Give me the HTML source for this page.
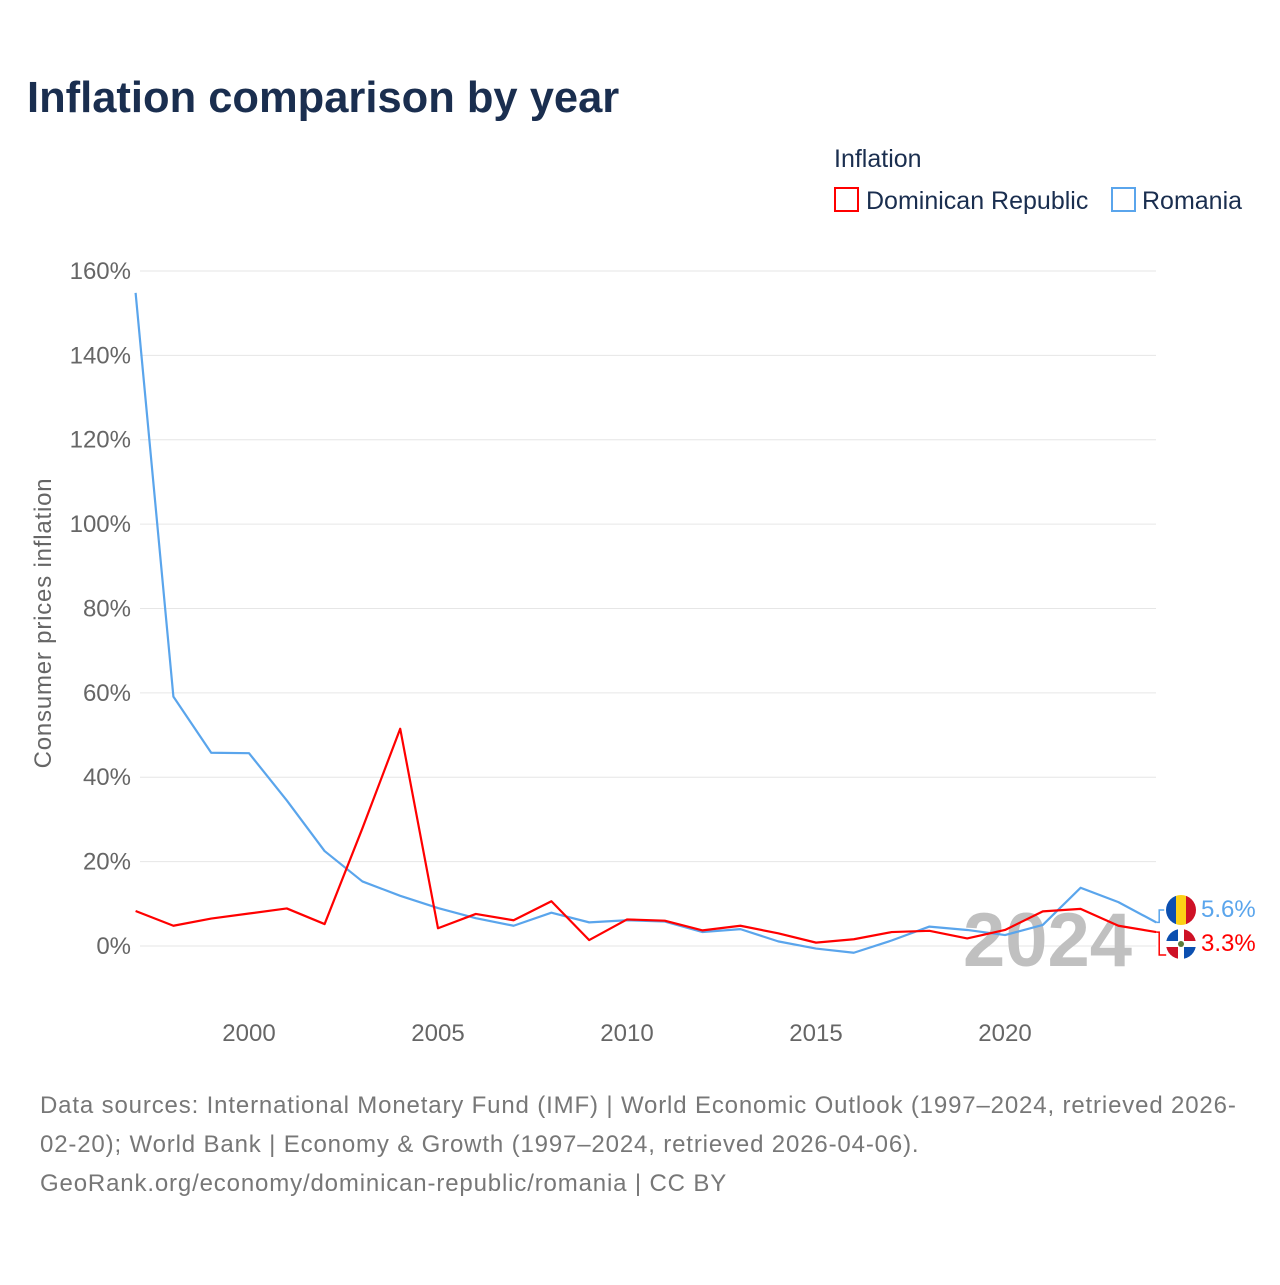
<!DOCTYPE html>
<html><head><meta charset="utf-8"><style>
body{margin:0;width:1280px;height:1280px;background:#fff;font-family:"Liberation Sans",sans-serif;overflow:hidden}
</style></head><body>
<svg width="1280" height="1280" xmlns="http://www.w3.org/2000/svg" id="chart">
<text x="27" y="112" font-size="43.5" font-weight="bold" fill="#1a2e4f">Inflation comparison by year</text>
<text x="834" y="167" font-size="25" fill="#1a2e4f">Inflation</text>
<g><rect x="835" y="188" width="23" height="23" fill="none" stroke="#f00" stroke-width="2"/><text x="866" y="209" font-size="25" fill="#1a2e4f">Dominican Republic</text></g>
<g><rect x="1112" y="188" width="23" height="23" fill="none" stroke="#5aa5ec" stroke-width="2"/><text x="1142" y="209" font-size="25" fill="#1a2e4f">Romania</text></g>
<g id="grid"></g><g id="yticks"></g><g id="xticks"></g>
<text x="963" y="966" font-size="76" font-weight="bold" fill="#c0c0c0">2024</text>
<g id="lines"></g>
<text transform="translate(51,623) rotate(-90)" text-anchor="middle" font-size="24" letter-spacing="0.8" fill="#666">Consumer prices inflation</text>
<g font-size="24" fill="#777" letter-spacing="0.85">
<text x="40" y="1113">Data sources: International Monetary Fund (IMF) | World Economic Outlook (1997–2024, retrieved 2026-</text>
<text x="40" y="1152">02-20); World Bank | Economy &amp; Growth (1997–2024, retrieved 2026-04-06).</text>
<text x="40" y="1191">GeoRank.org/economy/dominican-republic/romania | CC BY</text>
</g>
</svg>
<script>
const years=[1997,1998,1999,2000,2001,2002,2003,2004,2005,2006,2007,2008,2009,2010,2011,2012,2013,2014,2015,2016,2017,2018,2019,2020,2021,2022,2023,2024];
const drValues=[8.3,4.8,6.5,7.7,8.9,5.2,27.9,51.5,4.2,7.6,6.1,10.6,1.4,6.3,6.0,3.7,4.8,3.0,0.8,1.6,3.3,3.6,1.8,3.8,8.2,8.8,4.8,3.3];
const roValues=[154.8,59.1,45.8,45.7,34.5,22.5,15.3,11.9,9.0,6.6,4.8,7.9,5.6,6.1,5.8,3.3,4.0,1.1,-0.6,-1.6,1.3,4.6,3.8,2.6,5.0,13.8,10.4,5.6];
const yTicks=[0,20,40,60,80,100,120,140,160];
const xTicks=[2000,2005,2010,2015,2020];
const NS="http://www.w3.org/2000/svg";
const X=y=>135.6+(y-1997)*37.8;
const Y=v=>946-v*4.219;
function mk(t,a,p){const e=document.createElementNS(NS,t);for(const k in a)e.setAttribute(k,a[k]);p.appendChild(e);return e;}
const grid=document.getElementById('grid'),yt=document.getElementById('yticks'),xt=document.getElementById('xticks'),ln=document.getElementById('lines');
yTicks.forEach(v=>{
 const l=mk('line',{x1:140,x2:1156,y1:Y(v),y2:Y(v),stroke:'#e6e6e6','stroke-width':1},grid);
 
 
 const t=mk('text',{x:131,y:Y(v)+8,'text-anchor':'end','font-size':24,fill:'#666'},yt);
 t.textContent=v+'%';
 
 
});
xTicks.forEach(v=>{
 const t=mk('text',{x:X(v),y:1041,'text-anchor':'middle','font-size':24,fill:'#666'},xt);
 t.textContent=v;
 
 
});
function series(vals,color,name){
 const p=mk('polyline',{points:vals.map((v,i)=>X(years[i])+','+Y(v)).join(' '),fill:'none',stroke:color,'stroke-width':2.2,'stroke-linejoin':'round'},ln);
 
 
}
series(roValues,'#5aa5ec','line-romania');
series(drValues,'#f00','line-dominican-republic');
const lastRo=roValues[roValues.length-1],lastDr=drValues[drValues.length-1];
const roY=910,drY=943,ex=X(2024);
mk('polyline',{points:`${ex},${Y(lastRo)} ${ex+3},${Y(lastRo)} ${ex+3},${roY} ${ex+8},${roY}`,fill:'none',stroke:'#5aa5ec','stroke-width':1.5},ln);
mk('polyline',{points:`${ex},${Y(lastDr)} ${ex+3},${Y(lastDr)} ${ex+3},${drY+12} ${ex+10},${drY+12}`,fill:'none',stroke:'#f00','stroke-width':1.5},ln);
const fr=mk('g',{},ln);
const cp1=mk('clipPath',{id:'c1'},fr);mk('circle',{cx:1181,cy:910,r:15},cp1);
const g1=mk('g',{'clip-path':'url(#c1)'},fr);
mk('rect',{x:1166,y:895,width:10,height:30,fill:'#0b4fb0'},g1);mk('rect',{x:1176,y:895,width:10,height:30,fill:'#fcd116'},g1);mk('rect',{x:1186,y:895,width:10,height:30,fill:'#ce1126'},g1);
const fd=mk('g',{},ln);
const cp=mk('clipPath',{id:'c2'},fd);mk('circle',{cx:1181,cy:944,r:15},cp);
const g2=mk('g',{'clip-path':'url(#c2)'},fd);
mk('rect',{x:1166,y:929,width:30,height:30,fill:'#fff'},g2);
mk('rect',{x:1166,y:929,width:12,height:12,fill:'#0b4fb0'},g2);mk('rect',{x:1184,y:929,width:12,height:12,fill:'#ce1126'},g2);
mk('rect',{x:1166,y:947,width:12,height:12,fill:'#ce1126'},g2);mk('rect',{x:1184,y:947,width:12,height:12,fill:'#0b4fb0'},g2);
mk('circle',{cx:1181,cy:944,r:3,fill:'#5a7a3a'},g2);
const l1=mk('text',{x:1201,y:917,'font-size':24,fill:'#5aa5ec'},ln);l1.textContent=lastRo.toFixed(1)+'%';

const l2=mk('text',{x:1201,y:951,'font-size':24,fill:'#f00'},ln);l2.textContent=lastDr.toFixed(1)+'%';

</script>
</body></html>
